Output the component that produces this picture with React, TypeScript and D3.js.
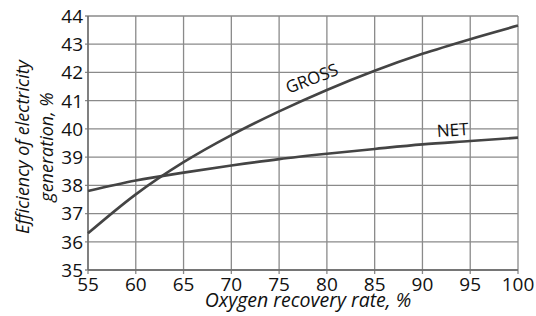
import React from "react";
import * as d3 from "d3";

const xValues = [55, 60, 65, 70, 75, 80, 85, 90, 95, 100];
const grossValues = [36.3, 37.68, 38.82, 39.78, 40.62, 41.38, 42.06, 42.66, 43.18, 43.66];
const netValues = [37.8, 38.17, 38.45, 38.7, 38.93, 39.12, 39.29, 39.45, 39.57, 39.69];
const xTicks = [55, 60, 65, 70, 75, 80, 85, 90, 95, 100];
const yTicks = [35, 36, 37, 38, 39, 40, 41, 42, 43, 44];

const W = 536, H = 316;
const M = { left: 88, right: 518, top: 16, bottom: 270 };
const FONT = "'Open Sans', sans-serif";

export default function App() {
  const x = d3.scaleLinear().domain([55, 100]).range([M.left, M.right]);
  const y = d3.scaleLinear().domain([35, 44]).range([M.bottom, M.top]);
  const line = d3
    .line<number>()
    .x((_, i) => x(xValues[i]))
    .y((d) => y(d))
    .curve(d3.curveMonotoneX);

  return (
    <svg
      width={W}
      height={H}
      style={{ position: "absolute", left: 0, top: 0, background: "#fff" }}
      fontFamily={FONT}
    >
      <rect width={W} height={H} fill="#fff" />
      {xTicks.map((t) => (
        <line key={"gx" + t} x1={x(t)} x2={x(t)} y1={M.top} y2={M.bottom + 4} stroke="#8a8a8a" strokeWidth={1.3} />
      ))}
      {yTicks.map((t) => (
        <line key={"gy" + t} x1={M.left - 3} x2={M.right} y1={y(t)} y2={y(t)} stroke="#8a8a8a" strokeWidth={1.3} />
      ))}
      <line x1={M.left} x2={M.left} y1={M.top} y2={M.bottom} stroke="#666" strokeWidth={1.3} />
      <line x1={M.left} x2={M.right} y1={M.bottom} y2={M.bottom} stroke="#666" strokeWidth={1.3} />

      <path d={line(grossValues) || ""} fill="none" stroke="#444" strokeWidth={2.6} />
      <path d={line(netValues) || ""} fill="none" stroke="#444" strokeWidth={2.6} />

      {yTicks.map((t) => (
        <text key={"ty" + t} x={M.left - 5} y={y(t)} dy="0.36em" textAnchor="end" fontSize={19} fill="#111">
          {t}
        </text>
      ))}
      {xTicks.map((t) => (
        <text key={"tx" + t} x={x(t)} y={M.bottom + 21} textAnchor="middle" fontSize={19} fill="#111">
          {t}
        </text>
      ))}

      <text
        transform={`translate(${x(78.65)},${y(41.59)}) rotate(-21)`}
        fontSize={17}
        textAnchor="middle"
        fill="#111"
      >
        GROSS
      </text>
      <text
        transform={`translate(${x(93.2)},${y(39.75)}) rotate(-4)`}
        fontSize={17}
        textAnchor="middle"
        fill="#111"
      >
        NET
      </text>

      <text x={308} y={307} textAnchor="middle" fontSize={19.5} fontStyle="italic" fill="#111">
        Oxygen recovery rate, %
      </text>
      <text transform={`translate(29,147) rotate(-90)`} textAnchor="middle" fontSize={18} fontStyle="italic" fill="#111">
        Efficiency of electricity
      </text>
      <text transform={`translate(53,147) rotate(-90)`} textAnchor="middle" fontSize={18} fontStyle="italic" fill="#111">
        generation, %
      </text>
    </svg>
  );
}
